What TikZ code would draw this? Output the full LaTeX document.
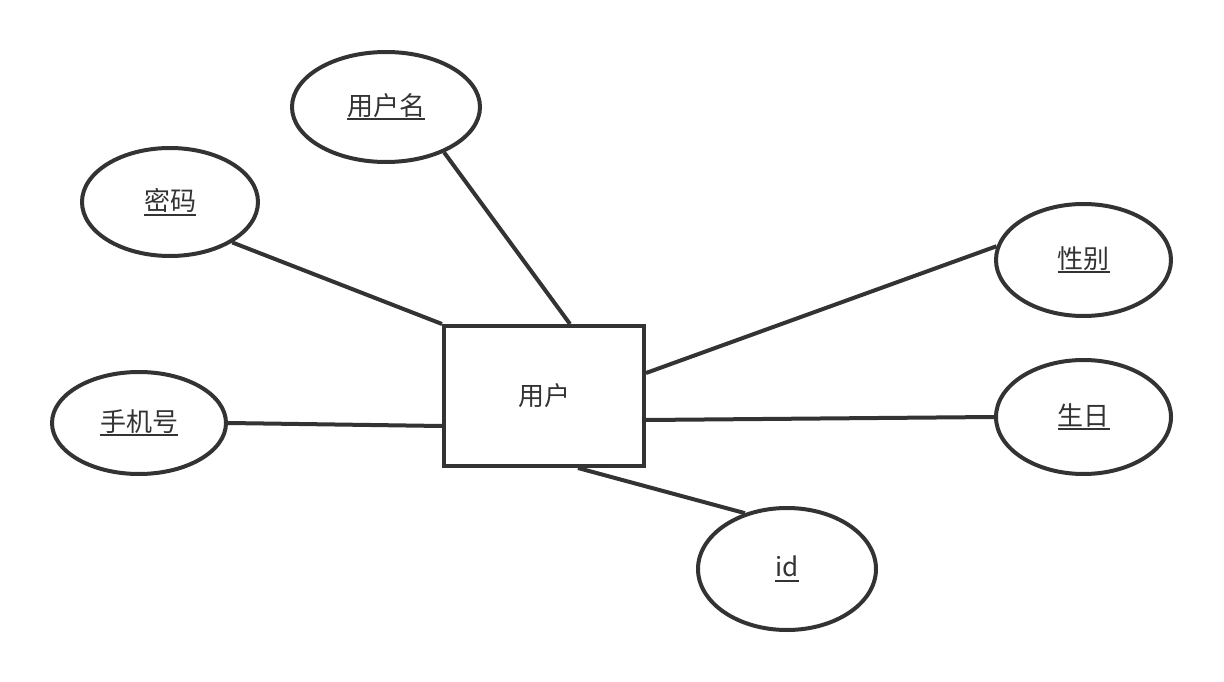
\documentclass[tikz,border=0pt]{standalone}
\usepackage{fontspec}
\setmainfont{Noto Sans CJK SC}
\usetikzlibrary{shapes.geometric}
\definecolor{ink}{HTML}{333333}
\newcommand\myul[1]{\setbox0\hbox{#1}\leavevmode\rlap{\rule[-5pt]{\wd0}{2pt}}\box0}
\begin{document}
\begin{tikzpicture}[x=1pt,y=-1pt,
  attr/.style={ellipse,draw=ink,line width=4pt,inner sep=0pt,text=ink,font=\fontsize{26}{30}\selectfont},
  ent/.style={rectangle,draw=ink,line width=4pt,inner sep=0pt,minimum width=200pt,minimum height=140pt,text=ink,font=\fontsize{26}{30}\selectfont},
  link/.style={draw=ink,line width=4pt}]
\useasboundingbox (0,0) rectangle (1224,682);
\node[ent] (u) at (544,396) {用户};
\node[attr,minimum width=188pt,minimum height=110pt] (n1) at (386,107) {\myul{用户名}};
\node[attr,minimum width=176pt,minimum height=108pt] (n2) at (170,202) {\myul{密码}};
\node[attr,minimum width=174pt,minimum height=102pt] (n3) at (139,423) {\myul{手机号}};
\node[attr,minimum width=175pt,minimum height=112pt] (n4) at (1083.5,260) {\myul{性别}};
\node[attr,minimum width=175pt,minimum height=114pt] (n5) at (1083.5,417) {\myul{生日}};
\node[attr,minimum width=178pt,minimum height=122pt] (n6) at (787,569) {\myul{id}};
\draw[link] (n1.322) -- ([xshift=26pt]u.north);
\draw[link] (n2.327) -- (u.north west);
\draw[link] (n3.east) -- ([yshift=-30pt]u.west);
\draw[link] (n4.171) -- ([yshift=23pt]u.east);
\draw[link] (n5.west) -- ([yshift=-24pt]u.east);
\draw[link] (n6.127) -- ([xshift=34pt]u.south);
\end{tikzpicture}
\end{document}
